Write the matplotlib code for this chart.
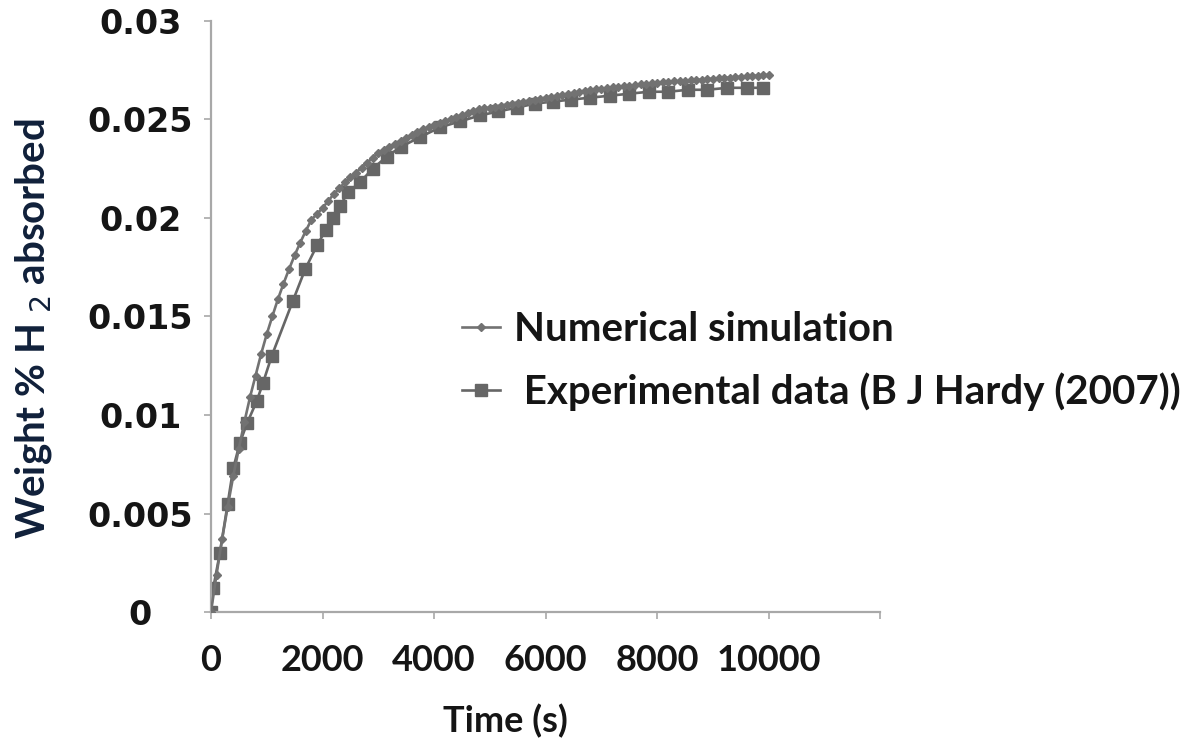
import matplotlib
matplotlib.use("Agg")
import matplotlib.pyplot as plt

# numerical simulation, sampled every 100 s
sim_time = [
    0, 100, 200, 300, 400, 500, 600, 700, 800, 900,
    1000, 1100, 1200, 1300, 1400, 1500, 1600, 1700, 1800, 1900,
    2000, 2100, 2200, 2300, 2400, 2500, 2600, 2700, 2800, 2900,
    3000, 3100, 3200, 3300, 3400, 3500, 3600, 3700, 3800, 3900,
    4000, 4100, 4200, 4300, 4400, 4500, 4600, 4700, 4800, 4900,
    5000, 5100, 5200, 5300, 5400, 5500, 5600, 5700, 5800, 5900,
    6000, 6100, 6200, 6300, 6400, 6500, 6600, 6700, 6800, 6900,
    7000, 7100, 7200, 7300, 7400, 7500, 7600, 7700, 7800, 7900,
    8000, 8100, 8200, 8300, 8400, 8500, 8600, 8700, 8800, 8900,
    9000, 9100, 9200, 9300, 9400, 9500, 9600, 9700, 9800, 9900,
    10000,
]
sim_weight = [
    0.0, 0.0019, 0.0037, 0.00535, 0.0069, 0.0083, 0.00965, 0.0109, 0.0120, 0.0131,
    0.0141, 0.0150, 0.01587, 0.01666, 0.0174, 0.0181, 0.01874, 0.01934, 0.0199, 0.0202,
    0.0205, 0.02085, 0.0212, 0.0215, 0.0218, 0.02205, 0.0223, 0.02255, 0.0228, 0.02305,
    0.0233, 0.02345, 0.0236, 0.02375, 0.0239, 0.02405, 0.0242, 0.02435, 0.0245, 0.0246,
    0.0247, 0.0248, 0.0249, 0.0250, 0.0251, 0.0252, 0.0253, 0.0254, 0.0255, 0.02555,
    0.0256, 0.02565, 0.0257, 0.02575, 0.0258, 0.02585, 0.0259, 0.02595, 0.0260, 0.02605,
    0.0261, 0.02615, 0.0262, 0.02625, 0.0263, 0.02635, 0.0264, 0.02645, 0.0265, 0.02653,
    0.02656, 0.02659, 0.02662, 0.02665, 0.02668, 0.02671, 0.02674, 0.02677, 0.0268, 0.02683,
    0.02686, 0.02688, 0.0269, 0.02692, 0.02694, 0.02696, 0.02698, 0.0270, 0.02702, 0.02704,
    0.02706, 0.02708, 0.0271, 0.02712, 0.02714, 0.02716, 0.02718, 0.0272, 0.02722, 0.02724,
    0.02726,
]

# experimental data (B J Hardy 2007)
exp_time = [
    0, 40, 160, 300, 400, 520, 650, 820, 930, 1090,
    1470, 1690, 1900, 2060, 2190, 2310, 2460, 2670, 2900, 3150,
    3400, 3750, 4110, 4470, 4825, 5150, 5490, 5810, 6130, 6450,
    6800, 7150, 7500, 7850, 8200, 8550, 8900, 9250, 9600, 9900,
]
exp_weight = [
    0.0, 0.0012, 0.0030, 0.0055, 0.0073, 0.0086, 0.0096, 0.0107, 0.0116, 0.0130,
    0.0158, 0.0174, 0.0186, 0.0194, 0.0200, 0.0206, 0.0213, 0.0218, 0.0225, 0.0231,
    0.0236, 0.0241, 0.0246, 0.0249, 0.0252, 0.0254, 0.0256, 0.0258, 0.0259, 0.0260,
    0.0261, 0.0262, 0.0263, 0.0264, 0.0264, 0.0265, 0.0265, 0.0266, 0.0266, 0.0266,
]

x_ticks = [0, 2000, 4000, 6000, 8000, 10000, 12000]
x_tick_labels = ["0", "2000", "4000", "6000", "8000", "10000", ""]
y_ticks = [0, 0.005, 0.01, 0.015, 0.02, 0.025, 0.03]
y_tick_labels = ["0", "0.005", "0.01", "0.015", "0.02", "0.025", "0.03"]

line_col = "#666666"
axis_col = "#a8a8a8"
text_col = "#151515"

fig = plt.figure(figsize=(11.85, 7.42), dpi=100)
ax = fig.add_axes([0.178, 0.175, 0.565, 0.797])

ax.plot(sim_time, sim_weight, color="#727272", linewidth=1.9, marker="D",
        markersize=4, label="Numerical simulation", zorder=3)
ax.plot(exp_time, exp_weight, color=line_col, linewidth=1.9, marker="s",
        markersize=9, label=" Experimental data (B J Hardy (2007))", zorder=2)

ax.set_xlim(0, 12000)
ax.set_ylim(0, 0.03)
ax.set_xticks(x_ticks)
ax.set_xticklabels(x_tick_labels, family="Lato", fontweight="bold", fontsize=26, color=text_col)
ax.set_yticks(y_ticks)
ax.set_yticklabels(y_tick_labels, family="DejaVu Sans", fontweight="bold", fontsize=24, color=text_col)
for lab in ax.get_yticklabels():
    lab.set_horizontalalignment("center")

for side in ["top", "right"]:
    ax.spines[side].set_visible(False)
for side in ["left", "bottom"]:
    ax.spines[side].set_color(axis_col)
    ax.spines[side].set_linewidth(1.6)
ax.tick_params(axis="both", direction="out", length=5, width=1.2, color=axis_col)
ax.tick_params(axis="y", pad=46)
ax.tick_params(axis="x", pad=18)

ax.set_xlabel("Time (s)", family="Lato", fontweight="bold", fontsize=26, color=text_col)
ax.xaxis.set_label_coords(0.44, -0.155)
ax.set_ylabel("Weight % H$_{\\ 2}$ absorbed", family="Lato", fontweight="bold",
              fontsize=29, color="#10203a")
ax.yaxis.set_label_coords(-0.235, 0.48)

leg = ax.legend(loc="center left", bbox_to_anchor=(0.375, 0.425), frameon=False,
                prop={"family": "Lato", "weight": "bold", "size": 29},
                handlelength=0.95, handletextpad=0.35, labelspacing=0.6,
                borderaxespad=0, borderpad=0)
for t in leg.get_texts():
    t.set_color(text_col)

fig.savefig("out.png", dpi=100, facecolor="white")
